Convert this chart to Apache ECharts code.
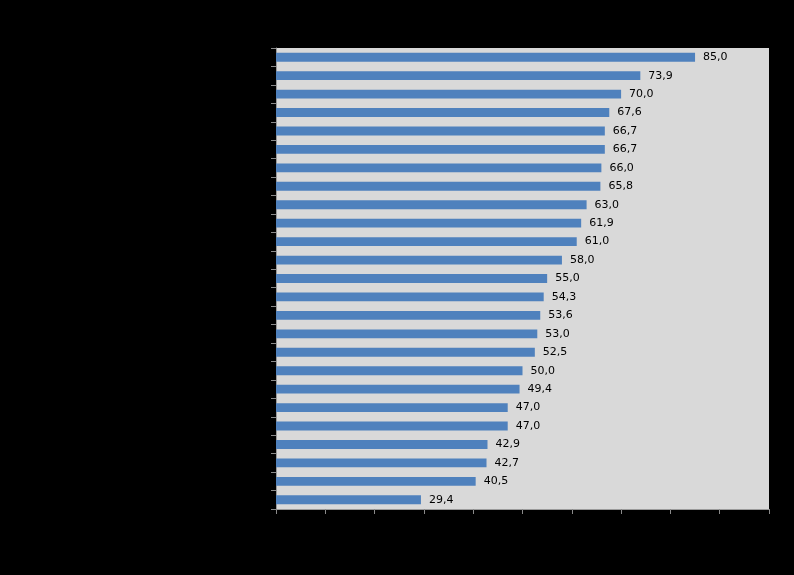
<!DOCTYPE html>
<html>
<head>
<meta charset="utf-8">
<script src="https://cdn.jsdelivr.net/npm/echarts@6/dist/echarts.min.js"></script>
<style>html,body{margin:0;padding:0;background:#000;}#c{width:794px;height:575px;}</style>
</head>
<body>
<div id="c"></div>
<script>
var categories = ['1','2','3','4','5','6','7','8','9','10','11','12','13','14','15','16','17','18','19','20','21','22','23','24','25'];
var values = [85.0,73.9,70.0,67.6,66.7,66.7,66.0,65.8,63.0,61.9,61.0,58.0,55.0,54.3,53.6,53.0,52.5,50.0,49.4,47.0,47.0,42.9,42.7,40.5,29.4];
var xTicks = {min: 0, max: 100, interval: 10};

var chart = echarts.init(document.getElementById('c'), null, {renderer: 'canvas'});
chart.setOption({
  backgroundColor: '#000000',
  animation: false,
  grid: {left: 276, right: 25, top: 48, bottom: 66, show: true, backgroundColor: '#D9D9D9', borderWidth: 0},
  xAxis: {
    type: 'value', min: xTicks.min, max: xTicks.max, interval: xTicks.interval,
    splitLine: {show: false},
    axisLine: {show: true, lineStyle: {color: '#9a9a9a', width: 1}},
    axisTick: {show: true, length: 5, lineStyle: {color: '#8a8a8a'}},
    axisLabel: {color: '#000000', fontSize: 11}
  },
  yAxis: {
    type: 'category', data: categories, inverse: true,
    axisLine: {show: true, lineStyle: {color: '#9a9a9a', width: 1}},
    axisTick: {show: true, length: 5, lineStyle: {color: '#8a8a8a'}},
    axisLabel: {color: '#000000', fontSize: 11}
  },
  series: [{
    type: 'bar', data: values, barWidth: '48%',
    itemStyle: {color: '#4F81BD'},
    label: {
      show: true, position: 'right', distance: 8, color: '#000000',
      fontFamily: 'DejaVu Sans', fontSize: 11,
      formatter: function (p) { return p.value.toFixed(1).replace('.', ','); }
    }
  }]
});
</script>
</body>
</html>
